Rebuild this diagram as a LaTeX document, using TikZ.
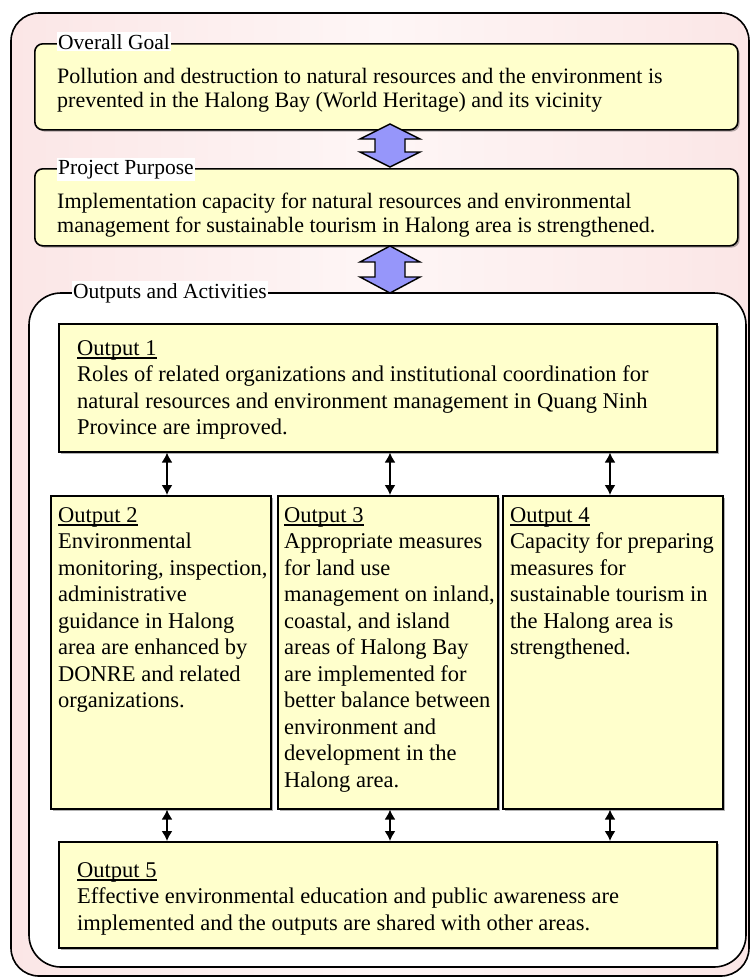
\documentclass[tikz,border=0pt]{standalone}
\usepackage{fontspec}
\setmainfont{Liberation Serif}
\usetikzlibrary{arrows.meta,shadows}

\definecolor{pinkbg}{RGB}{251,230,230}
\definecolor{pinklt}{RGB}{254,246,246}
\definecolor{boxyellow}{RGB}{255,255,204}
\definecolor{arrowblue}{RGB}{150,150,250}

% underlined heading with a heavier rule
\newcommand{\outhead}[1]{\sbox0{#1}\rlap{\rule[-3.5pt]{\wd0}{1.5pt}}\usebox0}

\begin{document}
\begin{tikzpicture}[x=1pt,y=-1pt,
  frameline/.style={draw=black,line width=1.6pt},
  softshadow/.style={drop shadow={shadow xshift=1.8pt,shadow yshift=-1.8pt,fill=black,opacity=0.3}},
  topbox/.style={draw=black,line width=1.6pt,fill=boxyellow,rounded corners=8pt,
                 anchor=north west,inner sep=0pt,softshadow},
  outbox/.style={draw=black,line width=1.6pt,fill=boxyellow,anchor=north west,inner sep=0pt,
                 softshadow},
  toptext/.style={anchor=north west,inner sep=0pt,align=left,
                  font=\fontsize{22}{24.5}\selectfont},
  outtext/.style={anchor=north west,inner sep=0pt,align=left,
                  font=\fontsize{22.5}{26.5}\selectfont},
  tag/.style={anchor=base west,fill=white,inner xsep=1pt,inner ysep=2pt,
              font=\fontsize{21.5}{24.5}\selectfont},
  linkarrow/.style={line width=1.6pt,{Latex[length=10pt,width=11pt]}-{Latex[length=10pt,width=11pt]}},
  blockarrow/.style={draw=black,line width=1.4pt,fill=arrowblue,line join=miter}
]
\useasboundingbox (0,0) rectangle (750,978);

% outer frame with a soft pink background
\shade[rounded corners=28pt,left color=pinkbg,right color=pinkbg,middle color=pinklt]
  (11,13) rectangle (749,976);
\draw[frameline,rounded corners=28pt] (11,13) rectangle (749,976);

% overall goal
\node[topbox,minimum width=703pt,minimum height=86pt] (goal) at (34,43) {};
\node[toptext] (goaltxt) at (57,66) {\strut Pollution and destruction to natural resources and the environment is\\
  prevented in the Halong Bay (World Heritage) and its vicinity};
\node[tag] (goaltag) at (57,49) {Overall Goal\hspace{4pt}};

% project purpose
\node[topbox,minimum width=703pt,minimum height=77pt] (purpose) at (34,168) {};
\node[toptext] (purposetxt) at (57,191) {\strut Implementation capacity for natural resources and environmental\\
  management for sustainable tourism in Halong area is strengthened.};
\node[tag] (purposetag) at (57,174) {Project Purpose};

% block arrows between the upper levels
\filldraw[blockarrow] (390,124) -- ++(30,15) -- ++(-15,0) -- ++(0,13) -- ++(15,0)
  -- ++(-30,15) -- ++(-30,-15) -- ++(15,0) -- ++(0,-13) -- ++(-15,0) -- cycle;
\filldraw[blockarrow] (390,246) -- ++(30,16) -- ++(-15,0) -- ++(0,15) -- ++(15,0)
  -- ++(-30,16) -- ++(-30,-16) -- ++(15,0) -- ++(0,-15) -- ++(-15,0) -- cycle;

% outputs and activities frame
\draw[frameline,fill=white,rounded corners=32pt] (29,293) rectangle (746,967);
\node[tag] (outtag) at (72,298) {Outputs and Activities};

% output boxes
\node[outbox,minimum width=658pt,minimum height=128pt] (o1) at (58,323) {};
\node[outbox,minimum width=220pt,minimum height=313pt] (o2) at (50,495) {};
\node[outbox,minimum width=220pt,minimum height=313pt] (o3) at (277,495) {};
\node[outbox,minimum width=220pt,minimum height=313pt] (o4) at (502,495) {};
\node[outbox,minimum width=658pt,minimum height=106pt] (o5) at (58,841) {};

\node[outtext] (o1txt) at (77,336.5) {\strut\outhead{Output 1}\\
  Roles of related organizations and institutional coordination for\\
  natural resources and environment management in Quang Ninh\\
  Province are improved.};
\node[outtext] (o2txt) at (58,503.5) {\strut\outhead{Output 2}\\
  Environmental\\ monitoring, inspection,\\ administrative\\ guidance in Halong\\
  area are enhanced by\\ DONRE and related\\ organizations.};
\node[outtext] (o3txt) at (284,503.5) {\strut\outhead{Output 3}\\
  Appropriate measures\\ for land use\\ management on inland,\\ coastal, and island\\
  areas of Halong Bay\\ are implemented for\\ better balance between\\
  environment and\\ development in the\\ Halong area.};
\node[outtext] (o4txt) at (510,503.5) {\strut\outhead{Output 4}\\
  Capacity for preparing\\ measures for\\ sustainable tourism in\\
  the Halong area is\\ strengthened.};
\node[outtext] (o5txt) at (77,858.5) {\strut\outhead{Output 5}\\
  Effective environmental education and public awareness are\\
  implemented and the outputs are shared with other areas.};

% links between outputs
\coordinate (ca) at (167,0);
\coordinate (cb) at (390,0);
\coordinate (cc) at (610,0);
\draw[linkarrow] (o1.south -| ca) -- (o2.north -| ca);
\draw[linkarrow] (o1.south -| cb) -- (o3.north -| cb);
\draw[linkarrow] (o1.south -| cc) -- (o4.north -| cc);
\draw[linkarrow] (o2.south -| ca) -- (o5.north -| ca);
\draw[linkarrow] (o3.south -| cb) -- (o5.north -| cb);
\draw[linkarrow] (o4.south -| cc) -- (o5.north -| cc);
\end{tikzpicture}
\end{document}
